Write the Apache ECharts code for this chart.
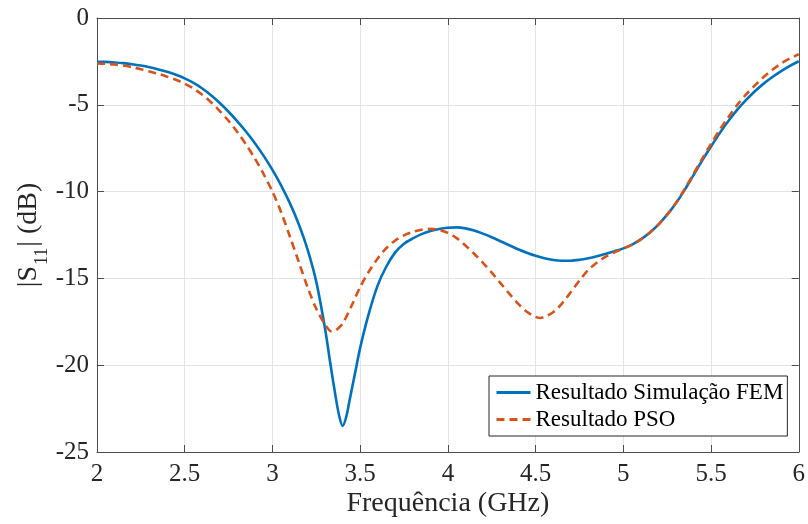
<!DOCTYPE html>
<html>
<head>
<meta charset="utf-8">
<script src="https://cdn.jsdelivr.net/npm/echarts@6/dist/echarts.min.js"></script>
<style>
html,body{margin:0;padding:0;background:#fff;}
#chart{width:808px;height:524px;}
</style>
</head>
<body>
<div id="chart"></div>
<script>
// ---- Data ----
const femFreq = [2.00,2.05,2.10,2.15,2.20,2.25,2.30,2.35,2.40,2.45,2.50,2.55,2.60,2.65,2.70,2.75,2.80,2.85,2.90,2.95,3.00,3.05,3.10,3.15,3.20,3.25,3.30,3.33,3.36,3.38,3.40,3.42,3.44,3.47,3.50,3.55,3.60,3.65,3.70,3.75,3.80,3.85,3.90,3.95,4.00,4.05,4.10,4.15,4.20,4.25,4.30,4.35,4.40,4.45,4.50,4.55,4.60,4.65,4.70,4.75,4.80,4.85,4.90,4.95,5.00,5.05,5.10,5.15,5.20,5.25,5.30,5.35,5.40,5.45,5.50,5.55,5.60,5.65,5.70,5.75,5.80,5.85,5.90,5.95,6.00];
const femS11  = [-2.52,-2.53,-2.56,-2.60,-2.66,-2.74,-2.84,-2.96,-3.10,-3.27,-3.48,-3.74,-4.06,-4.45,-4.90,-5.40,-5.95,-6.55,-7.21,-7.94,-8.75,-9.65,-10.68,-11.88,-13.33,-15.20,-17.90,-19.90,-21.80,-22.90,-23.50,-23.00,-22.00,-20.50,-19.00,-17.00,-15.40,-14.30,-13.50,-13.00,-12.70,-12.45,-12.27,-12.15,-12.08,-12.06,-12.12,-12.24,-12.42,-12.63,-12.86,-13.09,-13.32,-13.52,-13.70,-13.84,-13.94,-13.98,-13.98,-13.93,-13.84,-13.72,-13.58,-13.43,-13.27,-13.05,-12.75,-12.37,-11.90,-11.33,-10.67,-9.90,-9.05,-8.20,-7.40,-6.62,-5.92,-5.28,-4.72,-4.22,-3.78,-3.40,-3.06,-2.76,-2.49];

const psoFreq = [2.00,2.05,2.10,2.15,2.20,2.25,2.30,2.35,2.40,2.45,2.50,2.55,2.60,2.65,2.70,2.75,2.80,2.85,2.90,2.95,3.00,3.05,3.10,3.15,3.20,3.25,3.30,3.335,3.36,3.40,3.45,3.50,3.55,3.60,3.65,3.70,3.75,3.80,3.85,3.90,3.95,4.00,4.05,4.10,4.15,4.20,4.25,4.30,4.35,4.40,4.45,4.50,4.525,4.55,4.60,4.65,4.70,4.75,4.80,4.85,4.90,4.95,5.00,5.05,5.10,5.15,5.20,5.25,5.30,5.35,5.40,5.45,5.50,5.55,5.60,5.65,5.70,5.75,5.80,5.85,5.90,5.95,6.00];
const psoS11  = [-2.62,-2.64,-2.68,-2.74,-2.83,-2.95,-3.08,-3.22,-3.38,-3.56,-3.78,-4.06,-4.42,-4.85,-5.36,-5.93,-6.57,-7.30,-8.10,-9.00,-10.00,-11.20,-12.60,-14.05,-15.50,-16.75,-17.65,-18.05,-18.00,-17.60,-16.60,-15.50,-14.60,-13.85,-13.25,-12.82,-12.52,-12.32,-12.20,-12.15,-12.20,-12.38,-12.68,-13.10,-13.58,-14.10,-14.67,-15.27,-15.88,-16.45,-16.92,-17.22,-17.28,-17.22,-16.95,-16.45,-15.80,-15.12,-14.52,-14.08,-13.75,-13.50,-13.28,-13.05,-12.75,-12.37,-11.90,-11.33,-10.65,-9.85,-8.98,-8.10,-7.25,-6.44,-5.70,-5.00,-4.40,-3.88,-3.40,-2.98,-2.62,-2.33,-2.09];

const seriesNames = ['Resultado Simulação FEM', 'Resultado PSO'];
const xTitle = 'Frequência (GHz)';
const yTitle = '{m||S}{sub|11}{m|| (dB)}';
const xMin = 2, xMax = 6, xStep = 0.5;
const yMin = -25, yMax = 0, yStep = 5;

// ---- Chart ----
const FONT = '"Liberation Serif", "Times New Roman", serif';
const TXT = '#262626';
const AX = '#4d4d4d';

const chart = echarts.init(document.getElementById('chart'), null, {renderer: 'canvas'});

const baseX = {
  type: 'value', min: xMin, max: xMax, interval: xStep,
  axisLine: {show: true, onZero: false, lineStyle: {color: AX, width: 1}},
  axisTick: {show: true, inside: true, length: 7, lineStyle: {color: AX}},
  splitLine: {show: false}
};
const baseY = {
  type: 'value', min: yMin, max: yMax, interval: yStep,
  axisLine: {show: true, onZero: false, lineStyle: {color: AX, width: 1}},
  axisTick: {show: true, inside: true, length: 7, lineStyle: {color: AX}},
  splitLine: {show: false}
};

chart.setOption({
  animation: false,
  backgroundColor: '#ffffff',
  grid: {left: 97, right: 8, top: 18, bottom: 72, containLabel: false},
  xAxis: [
    Object.assign({}, baseX, {
      position: 'bottom',
      name: xTitle, nameLocation: 'middle', nameGap: 38, nameMoveOverlap: false,
      nameTextStyle: {fontFamily: FONT, fontSize: 28, color: TXT},
      axisLabel: {show: true, margin: 10, fontFamily: FONT, fontSize: 25, color: TXT},
      splitLine: {show: true, lineStyle: {color: '#e3e3e3', width: 1}}
    }),
    Object.assign({}, baseX, {position: 'top', axisLabel: {show: false}})
  ],
  yAxis: [
    Object.assign({}, baseY, {
      position: 'left',
      name: yTitle, nameLocation: 'middle', nameGap: 54, nameRotate: 90, nameMoveOverlap: false,
      nameTextStyle: {
        fontFamily: FONT, fontSize: 28, color: TXT,
        rich: {
          m: {fontFamily: FONT, fontSize: 28, color: TXT, lineHeight: 28, verticalAlign: 'top'},
          sub: {fontFamily: FONT, fontSize: 18, color: TXT, lineHeight: 18, padding: [18, 1, 0, 1], verticalAlign: 'top'}
        }
      },
      axisLabel: {show: true, margin: 8, fontFamily: FONT, fontSize: 25, color: TXT},
      splitLine: {show: true, lineStyle: {color: '#e3e3e3', width: 1}}
    }),
    Object.assign({}, baseY, {position: 'right', axisLabel: {show: false}})
  ],
  legend: {
    show: true,
    orient: 'vertical',
    left: 489, top: 376,
    padding: [4, 4, 4, 6],
    itemGap: 2,
    itemWidth: 34, itemHeight: 14,
    backgroundColor: '#ffffff',
    borderColor: '#262626', borderWidth: 1, borderRadius: 0,
    itemStyle: {opacity: 0, color: 'transparent', borderWidth: 0},
    lineStyle: {width: 3},
    textStyle: {fontFamily: FONT, fontSize: 23, color: '#000', lineHeight: 25},
    data: seriesNames
  },
  series: [
    {
      name: seriesNames[0], type: 'line', xAxisIndex: 0, yAxisIndex: 0,
      data: femFreq.map((f, i) => [f, femS11[i]]),
      smooth: 0.3, symbol: 'none', showSymbol: false,
      lineStyle: {color: '#0072BD', width: 2.6, type: 'solid'},
      itemStyle: {color: '#0072BD'},
      z: 3
    },
    {
      name: seriesNames[1], type: 'line', xAxisIndex: 0, yAxisIndex: 0,
      data: psoFreq.map((f, i) => [f, psoS11[i]]),
      smooth: 0.3, symbol: 'none', showSymbol: false,
      lineStyle: {color: '#D95319', width: 2.6, type: [8, 5]},
      itemStyle: {color: '#D95319'},
      z: 4
    }
  ]
});
</script>
</body>
</html>
